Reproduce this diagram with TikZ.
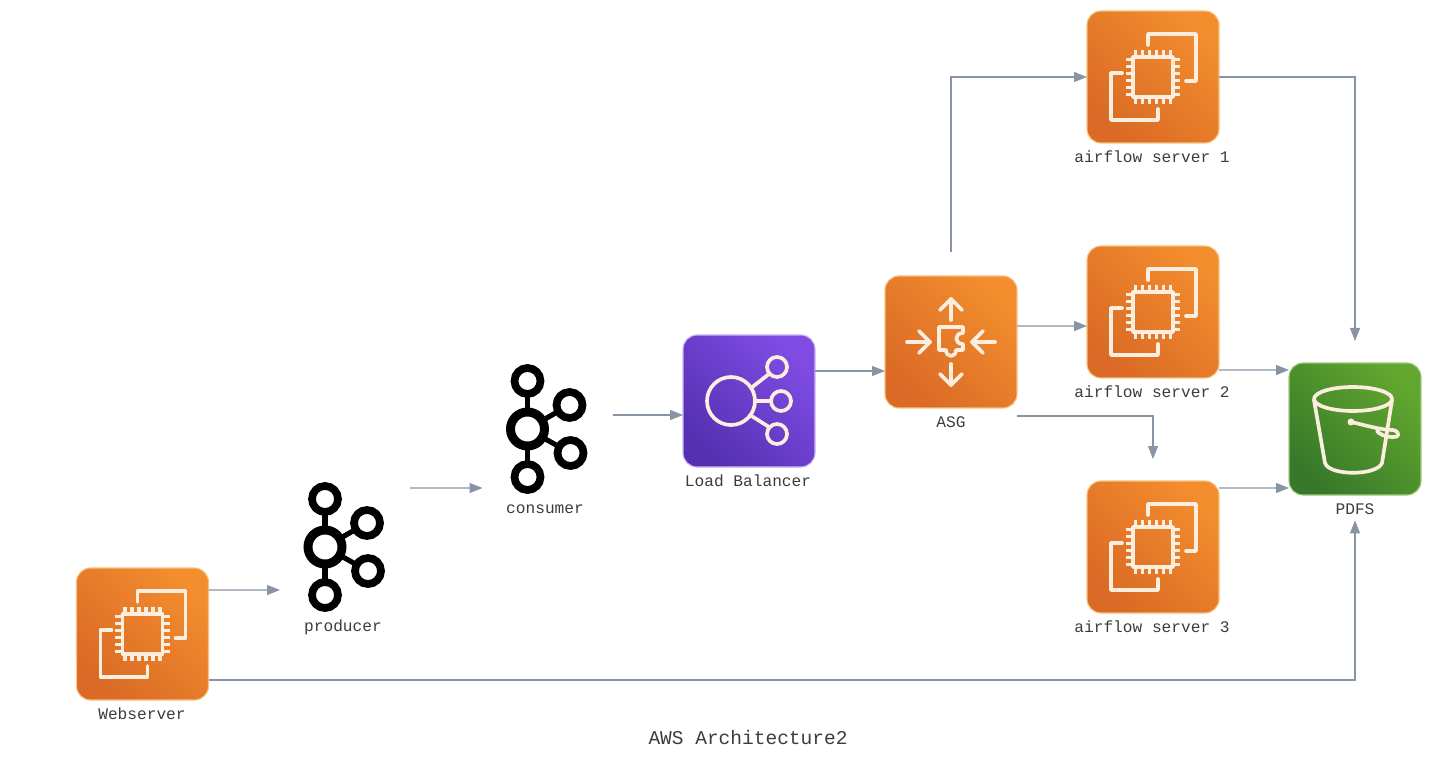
\documentclass[tikz,border=0pt]{standalone}
\usepackage{fontspec}
\setmonofont{Liberation Mono}
\usepackage{tikz}
\usetikzlibrary{arrows.meta,calc}
\definecolor{awsorangeA}{HTML}{DA6A25}
\definecolor{awsorangeB}{HTML}{F38D2E}
\definecolor{awsorangeE}{HTML}{F6C27E}
\definecolor{awsgreenA}{HTML}{37792A}
\definecolor{awsgreenB}{HTML}{62A72F}
\definecolor{awspurpleA}{HTML}{5530B2}
\definecolor{awspurpleB}{HTML}{804CE4}
\definecolor{iconcream}{HTML}{FBEEDF}
\definecolor{connblue}{HTML}{8794A4}
\definecolor{lblgray}{HTML}{3C3C3C}

\tikzset{
    iconline/.style={draw=iconcream, line width=2.1pt, line cap=round, line join=round},
    ec2icon/.pic={
        \begin{scope}[x=0.02cm,y=-0.02cm]
        \draw[iconline] (-20,-20) rectangle (20,20);
        \foreach \p in {-17.5,-10.5,-3.5,3.5,10.5,17.5} {
            \draw[iconline, line cap=butt] (\p,-20) -- (\p,-27);
            \draw[iconline, line cap=butt] (\p,20) -- (\p,27);
            \draw[iconline, line cap=butt] (-20,\p) -- (-27,\p);
            \draw[iconline, line cap=butt] (20,\p) -- (27,\p);
        }
        \draw[iconline] (-5,-32) -- (-5,-43) -- (43,-43) -- (43,4) -- (33,4);
        \draw[iconline] (-31,-4) -- (-42,-4) -- (-42,43) -- (5,43) -- (5,32);
        \end{scope}
    },
    asgicon/.pic={
        \begin{scope}[x=0.02cm,y=-0.02cm]
        \draw[iconline] (0,-22) -- (0,-43);
        \draw[iconline] (-11,-32) -- (0,-43) -- (11,-32);
        \draw[iconline] (0,22) -- (0,43);
        \draw[iconline] (-11,32) -- (0,43) -- (11,32);
        \draw[iconline] (-44,0) -- (-21,0);
        \draw[iconline] (-32,-11) -- (-21,0) -- (-32,11);
        \draw[iconline] (44,0) -- (21,0);
        \draw[iconline] (32,-11) -- (21,0) -- (32,11);
        \draw[iconline] (-12,-15) -- (12,-15) -- (12,-9) .. controls (3,-9) and (3,2) .. (12,2)
            -- (12,8) -- (5,8) .. controls (5,16) and (-5,16) .. (-5,8) -- (-12,8) -- cycle;
        \end{scope}
    },
    lbicon/.pic={
        \begin{scope}[x=0.02cm,y=-0.02cm]
        \draw[iconline] (-18,0) circle (24);
        \draw[iconline] (28,-34) circle (10);
        \draw[iconline] (32,0) circle (10);
        \draw[iconline] (28,33) circle (10);
        \draw[iconline] (2,-13) -- (20,-27);
        \draw[iconline] (6,0) -- (22,0);
        \draw[iconline] (1,14) -- (20,26);
        \end{scope}
    },
    bucketicon/.pic={
        \begin{scope}[x=0.02cm,y=-0.02cm]
        \draw[iconline] (-2,-30) ellipse (39 and 12);
        \draw[iconline] (-41,-29) -- (-30,34) .. controls (-26,47) and (22,47) .. (27,34) -- (37,-29);
        \draw[iconline] (-4,-7) .. controls (10,-4) and (25,1) .. (38,1)
            .. controls (46,3) and (44,9) .. (38,8) .. controls (30,8) and (24,5) .. (22,2);
        \fill[iconcream] (-4,-7) circle (3.5);
        \end{scope}
    },
    kafkaicon/.pic={
        \begin{scope}[x=0.02cm,y=-0.02cm, line width=2.9pt, draw=black]
        \draw (-20,-36) -- (-20,36);
        \draw (-20,0) -- (22,-24);
        \draw (-20,0) -- (23,24);
        \fill[white] (-20,0) circle (17);
        \draw[line width=5.1pt] (-20,0) circle (17);
        \draw[line width=4.4pt, fill=white] (-20,-48) circle (13);
        \draw[line width=4.4pt, fill=white] (-20,48) circle (13);
        \draw[line width=4.4pt, fill=white] (22,-24) circle (13);
        \draw[line width=4.4pt, fill=white] (23,24) circle (13);
        \end{scope}
    }
}

\begin{document}
\begin{tikzpicture}[
    awsbox/.style={draw=#1, line width=0.6pt, rounded corners=0.28cm, minimum size=2.64cm,
                   inner sep=0pt, outer sep=0pt},
    ec2box/.style={awsbox=awsorangeE, bottom color=awsorangeA, top color=awsorangeB, shading angle=-45},
    s3box/.style={awsbox=awsgreenB!60, bottom color=awsgreenA, top color=awsgreenB, shading angle=-45},
    elbbox/.style={awsbox=awspurpleB!40, bottom color=awspurpleA, top color=awspurpleB, shading angle=-45},
    kafkabox/.style={minimum size=2.6cm, inner sep=0pt, outer sep=0pt},
    lbl/.style={font=\ttfamily\fontsize{9.2}{11}\selectfont, text=lblgray, inner sep=0pt,
                minimum height=0.44cm},
    conn/.style={-{Stealth[length=0.26cm,width=0.2cm,inset=0pt]}, line width=0.6pt, color=connblue}
]
\useasboundingbox (0,0) rectangle (28.76,-15.28);

% --- icon boxes ---
\node[ec2box] (web) at (2.85,-12.68) {};
\node[kafkabox] (prod) at (6.90,-10.94) {};
\node[kafkabox] (cons) at (10.95,-8.58) {};
\node[elbbox] (lb) at (14.98,-8.02) {};
\node[ec2box] (asg) at (19.02,-6.84) {};
\node[ec2box] (srv1) at (23.06,-1.54) {};
\node[ec2box] (srv2) at (23.06,-6.24) {};
\node[ec2box] (srv3) at (23.06,-10.94) {};
\node[s3box] (pdfs) at (27.10,-8.58) {};

% --- icons ---
\pic at (web) {ec2icon};
\pic at (prod) {kafkaicon};
\pic at (cons) {kafkaicon};
\pic at (lb) {lbicon};
\pic at (asg) {asgicon};
\pic at (srv1) {ec2icon};
\pic at (srv2) {ec2icon};
\pic at (srv3) {ec2icon};
\pic at (pdfs) {bucketicon};

% --- labels ---
\node[lbl] (weblbl) at (2.84,-14.28) {Webserver};
\node[lbl] (prodlbl) at (6.86,-12.54) {producer};
\node[lbl] (conslbl) at (10.90,-10.18) {consumer};
\node[lbl] (lblbl) at (14.96,-9.62) {Load Balancer};
\node[lbl] (asglbl) at (19.02,-8.44) {ASG};
\node[lbl] (srv1lbl) at (23.04,-3.14) {airflow server 1};
\node[lbl] (srv2lbl) at (23.04,-7.84) {airflow server 2};
\node[lbl] (srv3lbl) at (23.04,-12.54) {airflow server 3};
\node[lbl] (pdfslbl) at (27.10,-10.18) {PDFS};
\node[lbl, font=\ttfamily\fontsize{11.1}{13}\selectfont] (title) at (14.96,-14.76) {AWS Architecture2};

% --- connections ---
\draw[conn] ([yshift=0.88cm]web.east) -- ([yshift=-0.86cm]prod.west);
\draw[conn] ([yshift=-0.92cm]web.east) -| (pdfslbl.south);
\draw[conn] ([yshift=1.18cm]prod.east) -- ([yshift=-1.18cm]cons.west);
\draw[conn] ([yshift=0.28cm]cons.east) -- ([yshift=-0.28cm]lb.west);
\draw[conn] ([yshift=0.60cm]lb.east) -- ([yshift=-0.58cm]asg.west);
\draw[conn] ([yshift=0.48cm]asg.north) |- (srv1.west);
\draw[conn] ([yshift=0.32cm]asg.east) -- ([yshift=-0.28cm]srv2.west);
\draw[conn] ([yshift=-1.48cm]asg.east) -| ([yshift=0.44cm]srv3.north);
\draw[conn] (srv1.east) -| ([yshift=0.44cm]pdfs.north);
\draw[conn] ([yshift=-1.16cm]srv2.east) -- ([yshift=1.18cm]pdfs.west);
\draw[conn] ([yshift=1.18cm]srv3.east) -- ([yshift=-1.18cm]pdfs.west);

\end{tikzpicture}
\end{document}
